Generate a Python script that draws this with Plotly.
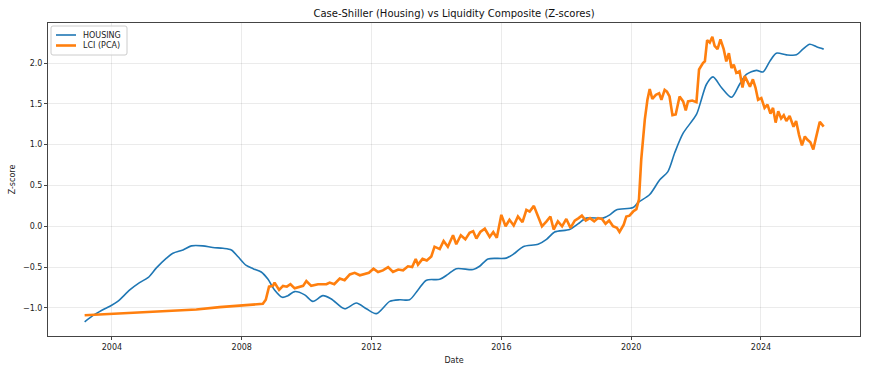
import datetime as dt
import plotly.graph_objects as go

# Housing (Case-Shiller) z-scores: decimal-year positions and values
housing_t = [2003.16, 2003.47, 2003.78, 2003.98, 2004.18, 2004.55, 2004.85, 2005.11, 2005.37, 2005.68,
             2005.88, 2006.19, 2006.45, 2006.80, 2007.11, 2007.42, 2007.68, 2007.88, 2008.14, 2008.35,
             2008.60, 2008.81, 2009.01, 2009.25, 2009.42, 2009.63, 2009.94, 2010.19, 2010.50, 2010.76,
             2011.17, 2011.53, 2011.84, 2012.15, 2012.56, 2012.87, 2013.17, 2013.43, 2013.69, 2014.10,
             2014.35, 2014.61, 2015.13, 2015.33, 2015.59, 2016.15, 2016.41, 2016.67, 2017.13, 2017.39,
             2017.64, 2018.10, 2018.36, 2018.62, 2019.13, 2019.34, 2019.54, 2020.06, 2020.21, 2020.57,
             2020.88, 2021.13, 2021.34, 2021.60, 2022.01, 2022.16, 2022.32, 2022.52, 2022.78, 2023.09,
             2023.34, 2023.55, 2023.86, 2024.06, 2024.27, 2024.47, 2024.78, 2025.09, 2025.29, 2025.50,
             2025.71, 2025.93]
housing_v = [-1.17, -1.08, -1.01, -0.97, -0.92, -0.78, -0.69, -0.63, -0.51, -0.39,
             -0.33, -0.29, -0.24, -0.24, -0.26, -0.27, -0.29, -0.37, -0.48, -0.52,
             -0.56, -0.65, -0.78, -0.87, -0.85, -0.80, -0.84, -0.92, -0.85, -0.89,
             -1.01, -0.94, -1.01, -1.07, -0.92, -0.90, -0.90, -0.78, -0.66, -0.65,
             -0.59, -0.52, -0.53, -0.49, -0.40, -0.39, -0.33, -0.25, -0.22, -0.16,
             -0.07, -0.04, 0.03, 0.10, 0.10, 0.14, 0.20, 0.23, 0.29, 0.39,
             0.57, 0.67, 0.90, 1.14, 1.37, 1.55, 1.74, 1.83, 1.70, 1.58,
             1.74, 1.86, 1.91, 1.89, 2.02, 2.12, 2.10, 2.10, 2.17, 2.23,
             2.20, 2.17]

# Liquidity Composite (PCA) z-scores
lci_t = [2003.16, 2004.24, 2005.00, 2005.88, 2006.60, 2007.32, 2008.04, 2008.65, 2008.74, 2008.84,
         2008.96, 2009.01, 2009.15, 2009.27, 2009.39, 2009.50, 2009.63, 2009.89, 2009.99, 2010.14,
         2010.35, 2010.61, 2010.71, 2010.85, 2011.02, 2011.17, 2011.33, 2011.48, 2011.64, 2011.79,
         2011.92, 2012.06, 2012.20, 2012.35, 2012.51, 2012.66, 2012.82, 2012.97, 2013.12, 2013.25,
         2013.36, 2013.43, 2013.57, 2013.70, 2013.84, 2013.94, 2014.10, 2014.22, 2014.35, 2014.51,
         2014.61, 2014.75, 2014.89, 2015.02, 2015.13, 2015.23, 2015.35, 2015.49, 2015.64, 2015.75,
         2015.86, 2016.00, 2016.13, 2016.25, 2016.38, 2016.51, 2016.65, 2016.77, 2016.87, 2017.00,
         2017.13, 2017.25, 2017.39, 2017.51, 2017.61, 2017.74, 2017.87, 2018.00, 2018.13, 2018.26,
         2018.38, 2018.48, 2018.60, 2018.73, 2018.86, 2018.98, 2019.10, 2019.21, 2019.32, 2019.44,
         2019.56, 2019.64, 2019.77, 2019.85, 2019.95, 2020.06, 2020.16, 2020.24, 2020.31, 2020.42,
         2020.50, 2020.57, 2020.65, 2020.76, 2020.86, 2020.93, 2021.03, 2021.10, 2021.18, 2021.27,
         2021.37, 2021.49, 2021.60, 2021.68, 2021.75, 2021.88, 2022.01, 2022.09, 2022.21, 2022.27,
         2022.34, 2022.42, 2022.50, 2022.57, 2022.66, 2022.75, 2022.85, 2022.93, 2023.01, 2023.09,
         2023.16, 2023.24, 2023.34, 2023.43, 2023.50, 2023.58, 2023.66, 2023.75, 2023.83, 2023.91,
         2024.01, 2024.11, 2024.20, 2024.29, 2024.37, 2024.45, 2024.53, 2024.62, 2024.70, 2024.78,
         2024.88, 2025.00, 2025.08, 2025.17, 2025.26, 2025.35, 2025.43, 2025.52, 2025.61, 2025.69,
         2025.81, 2025.93]
lci_v = [-1.09, -1.07, -1.055, -1.04, -1.02, -0.99, -0.97, -0.95, -0.90, -0.74,
         -0.73, -0.69, -0.78, -0.73, -0.74, -0.71, -0.76, -0.73, -0.67, -0.73,
         -0.71, -0.71, -0.69, -0.71, -0.64, -0.66, -0.59, -0.57, -0.60, -0.58,
         -0.57, -0.52, -0.56, -0.54, -0.50, -0.56, -0.53, -0.54, -0.49, -0.50,
         -0.40, -0.47, -0.40, -0.42, -0.37, -0.25, -0.28, -0.18, -0.25, -0.11,
         -0.22, -0.11, -0.16, -0.08, -0.06, -0.15, -0.07, -0.03, -0.13, -0.07,
         -0.14, 0.14, 0.00, 0.08, 0.01, 0.12, 0.05, 0.20, 0.18, 0.25,
         0.12, 0.00, 0.06, 0.12, -0.04, 0.06, 0.00, 0.09, -0.02, 0.07,
         0.10, 0.13, 0.07, 0.10, 0.06, 0.10, 0.09, 0.03, 0.07, 0.00,
         -0.02, -0.07, 0.02, 0.12, 0.13, 0.18, 0.21, 0.33, 0.82, 1.31,
         1.55, 1.68, 1.56, 1.61, 1.63, 1.55, 1.67, 1.65, 1.59, 1.36,
         1.37, 1.59, 1.53, 1.42, 1.53, 1.54, 1.52, 1.92, 2.00, 2.02,
         2.28, 2.25, 2.32, 2.21, 2.17, 2.29, 2.17, 2.02, 2.12, 1.94,
         1.98, 1.88, 1.90, 1.70, 1.84, 1.78, 1.71, 1.80, 1.70, 1.55,
         1.57, 1.45, 1.49, 1.38, 1.45, 1.27, 1.41, 1.32, 1.36, 1.29,
         1.35, 1.22, 1.29, 1.12, 0.99, 1.10, 1.06, 1.03, 0.94, 1.08,
         1.28, 1.22]

series_names = ["HOUSING", "LCI (PCA)"]
series_colors = ["#1f77b4", "#ff7f0e"]
series_widths = [1.6, 2.6]

tick_years = [2004, 2008, 2012, 2016, 2020, 2024]
x_range_years = [2002.03, 2027.05]
y_range = [-1.344, 2.49]

# plot-area geometry in pixels (figure 870 x 373)
W, H = 870, 373
L, R, T, B = 48, 10, 23, 37
PW, PH = W - L - R, H - T - B


def to_date(y):
    year = int(y)
    start = dt.datetime(year, 1, 1)
    end = dt.datetime(year + 1, 1, 1)
    return start + (end - start) * (y - year)


def px_x(p):
    return (p - L) / PW


def px_y(p):
    return (H - B - p) / PH


housing_x = [to_date(t) for t in housing_t]
lci_x = [to_date(t) for t in lci_t]

FONT = "DejaVu Sans"

fig = go.Figure()
fig.add_trace(go.Scatter(x=housing_x, y=housing_v, mode="lines", name=series_names[0],
                         line=dict(color=series_colors[0], width=series_widths[0],
                                   shape="spline", smoothing=0.8)))
fig.add_trace(go.Scatter(x=lci_x, y=lci_v, mode="lines", name=series_names[1],
                         line=dict(color=series_colors[1], width=series_widths[1])))

axis_common = dict(showline=True, linecolor="#444444", linewidth=1, mirror=True,
                   showgrid=True, gridcolor="rgba(0,0,0,0.08)", gridwidth=1,
                   ticks="outside", ticklen=3, tickcolor="#444444", zeroline=False,
                   tickfont=dict(family=FONT, size=8, color="#222222"))

# compact matplotlib-style legend drawn as layout shapes + annotations
bx0, bx1, by0, by1 = 51, 127, 26, 55
x0p, x1p, y0p, y1p = px_x(bx0), px_x(bx1), px_y(by0), px_y(by1)
rr = 2.0
rxp, ryp = rr / PW, rr / PH
path = (f"M {x0p + rxp},{y0p} L {x1p - rxp},{y0p} Q {x1p},{y0p} {x1p},{y0p - ryp} "
        f"L {x1p},{y1p + ryp} Q {x1p},{y1p} {x1p - rxp},{y1p} "
        f"L {x0p + rxp},{y1p} Q {x0p},{y1p} {x0p},{y1p + ryp} "
        f"L {x0p},{y0p - ryp} Q {x0p},{y0p} {x0p + rxp},{y0p} Z")
shapes = [dict(type="path", xref="paper", yref="paper", path=path,
               line=dict(color="#cccccc", width=1), fillcolor="rgba(255,255,255,0.8)", layer="above")]
annotations = []
for i, (nm, col, wd) in enumerate(zip(series_names, series_colors, series_widths)):
    cy = 35 + i * 10.5
    shapes.append(dict(type="line", xref="paper", yref="paper",
                       x0=px_x(56), x1=px_x(76), y0=px_y(cy), y1=px_y(cy),
                       line=dict(color=col, width=wd), layer="above"))
    annotations.append(dict(xref="paper", yref="paper", x=px_x(80.5), y=px_y(cy),
                            xanchor="left", yanchor="middle", showarrow=False, text=nm,
                            font=dict(family=FONT, size=8, color="#222222")))

fig.update_layout(
    width=W, height=H,
    margin=dict(l=L, r=R, t=T, b=B),
    paper_bgcolor="white", plot_bgcolor="white",
    font=dict(family=FONT, size=8, color="#222222"),
    title=dict(text="Case-Shiller (Housing) vs Liquidity Composite (Z-scores)",
               x=(L + W - R) / 2 / W, xanchor="center", y=1 - 13 / H, yanchor="middle",
               font=dict(family=FONT, size=10, color="#111111")),
    xaxis=dict(axis_common, type="date",
               range=[to_date(x_range_years[0]), to_date(x_range_years[1])],
               tickvals=[dt.datetime(y, 1, 1) for y in tick_years],
               ticktext=[str(y) for y in tick_years],
               title=dict(text="Date", font=dict(family=FONT, size=8), standoff=6)),
    yaxis=dict(axis_common, range=y_range,
               tickvals=[-1.0, -0.5, 0.0, 0.5, 1.0, 1.5, 2.0],
               ticktext=["\u22121.0", "\u22120.5", "0.0", "0.5", "1.0", "1.5", "2.0"],
               title=dict(text="Z-score", font=dict(family=FONT, size=8), standoff=6)),
    showlegend=False,
    shapes=shapes,
    annotations=annotations,
)

fig.write_html("out.html")
